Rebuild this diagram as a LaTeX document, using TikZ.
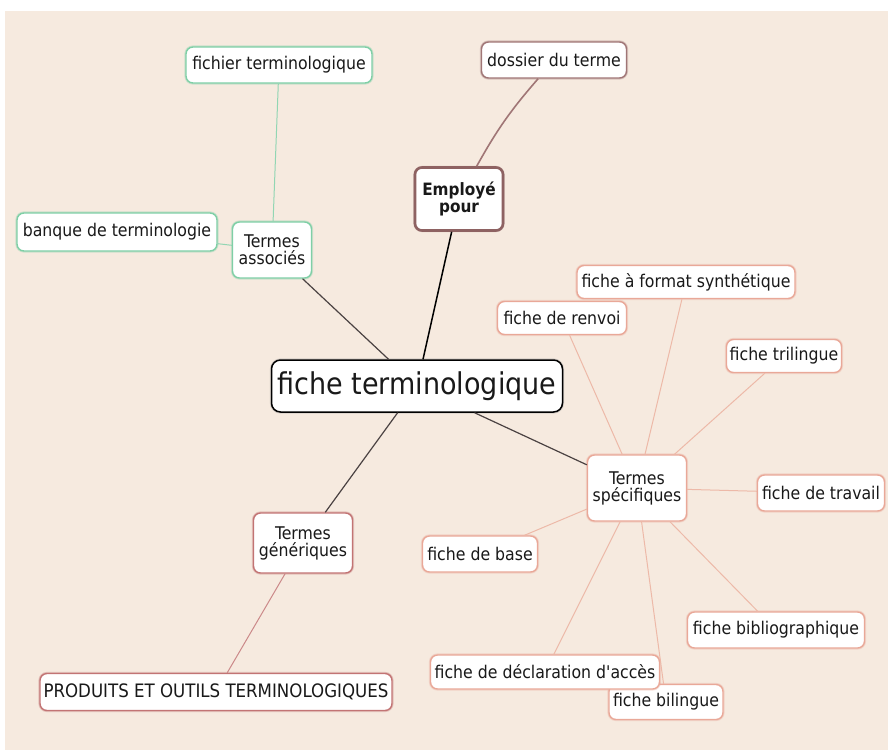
\documentclass[tikz,border=0pt]{standalone}
\usepackage{fontspec}
% a plain family keeps the straight apostrophe
\newfontfamily\mapfont{DejaVu Sans Condensed}
\definecolor{paper}{HTML}{F6EADF}
\definecolor{assoccol}{HTML}{7FCFA6}
\definecolor{empcol}{HTML}{8E6262}
\definecolor{dosscol}{HTML}{A07676}
\definecolor{speccol}{HTML}{E9A898}
\definecolor{speclink}{HTML}{EDB9A8}
\definecolor{gencol}{HTML}{C27474}
\definecolor{hublink}{HTML}{4A4242}
\tikzset{
  box/.style={draw, rounded corners=7pt, fill=white, line width=1.4pt,
    align=center, inner sep=1pt, text=black!90,
    font=\mapfont\fontsize{17.5}{17}\selectfont},
  halo/.style={preaction={draw=#1, draw opacity=0.35, line width=3.2pt}},
  assocbox/.style={box, draw=assoccol, halo=assoccol},
  specbox/.style={box, draw=speccol, halo=speccol},
  genbox/.style={box, draw=gencol, halo=gencol},
  dossbox/.style={box, draw=dosscol, halo=dosscol},
  sz/.style 2 args={minimum width=#1pt, minimum height=#2pt},
  hubedge/.style={draw=hublink, line width=1.2pt},
  assocedge/.style={draw=assoccol!85, line width=1pt},
  specedge/.style={draw=speclink, line width=1pt},
  genedge/.style={draw=gencol!85, line width=1pt},
}
\begin{document}
\begin{tikzpicture}[x=1pt,y=-1pt]
  % page and paper
  \fill[white] (0,0) rectangle (888,750);
  \fill[paper] (5,11) rectangle (888,750);

  % central topic
  \node[box, draw=black, line width=1.5pt, rounded corners=9pt, sz={291}{52},
        halo=black!40, font=\mapfont\fontsize{30}{32}\selectfont]
       (hub) at (417,386) {fiche terminologique};

  % main branches
  \node[box, draw=empcol, line width=2.6pt, sz={88}{63}, halo=empcol,
        font=\mapfont\bfseries\fontsize{17}{17}\selectfont] (emp) at (459,199) {Employé\\pour};
  \node[assocbox, sz={79}{56}] (assoc) at (272,250) {Termes\\associés};
  \node[specbox, sz={99}{66}] (spec) at (637,488) {Termes\\spécifiques};
  \node[genbox, sz={99}{60}] (gen) at (303,543) {Termes\\génériques};

  % leaves
  \node[dossbox, sz={145}{36}] (doss) at (554,60) {dossier du terme};
  \node[assocbox, sz={186}{36}] (fichier) at (279,65) {fichier terminologique};
  \node[assocbox, sz={200}{38}] (banque) at (117,232) {banque de terminologie};
  \node[specbox, sz={218}{33}] (format) at (686,282) {fiche à format synthétique};
  \node[specbox, sz={129}{33}] (renvoi) at (562,318) {fiche de renvoi};
  \node[specbox, sz={115}{33}] (trilingue) at (784,356) {fiche trilingue};
  \node[specbox, sz={127}{36}] (travail) at (821,493) {fiche de travail};
  \node[specbox, sz={115}{36}] (base) at (480,554) {fiche de base};
  \node[specbox, sz={177}{36}] (biblio) at (776,630) {fiche bibliographique};
  \node[specbox, sz={114}{35}] (bilingue) at (666,702) {fiche bilingue};
  \node[specbox, sz={229}{34}] (declar) at (545,672) {fiche de déclaration d'accès};
  \node[genbox, sz={352}{37}, font=\mapfont\fontsize{18.5}{19}\selectfont]
       (produits) at (216,692) {PRODUITS ET OUTILS TERMINOLOGIQUES};

  % connectors from the central topic
  \draw[draw=black, line width=1.5pt] (hub) -- (emp);
  \draw[hubedge] (hub) -- (assoc);
  \draw[hubedge] (hub) -- (spec);
  \draw[hubedge] (hub) -- (gen);

  % connectors to the leaves
  \draw[draw=dosscol, line width=1.6pt] (emp) to[bend left=6] (doss);
  \draw[assocedge] (assoc) -- (fichier);
  \draw[assocedge] (assoc) -- (banque);
  \foreach \leaf in {format,renvoi,trilingue,travail,base,biblio,bilingue,declar}
    \draw[specedge] (spec) -- (\leaf);
  \draw[genedge] (gen) -- (produits);
\end{tikzpicture}
\end{document}
